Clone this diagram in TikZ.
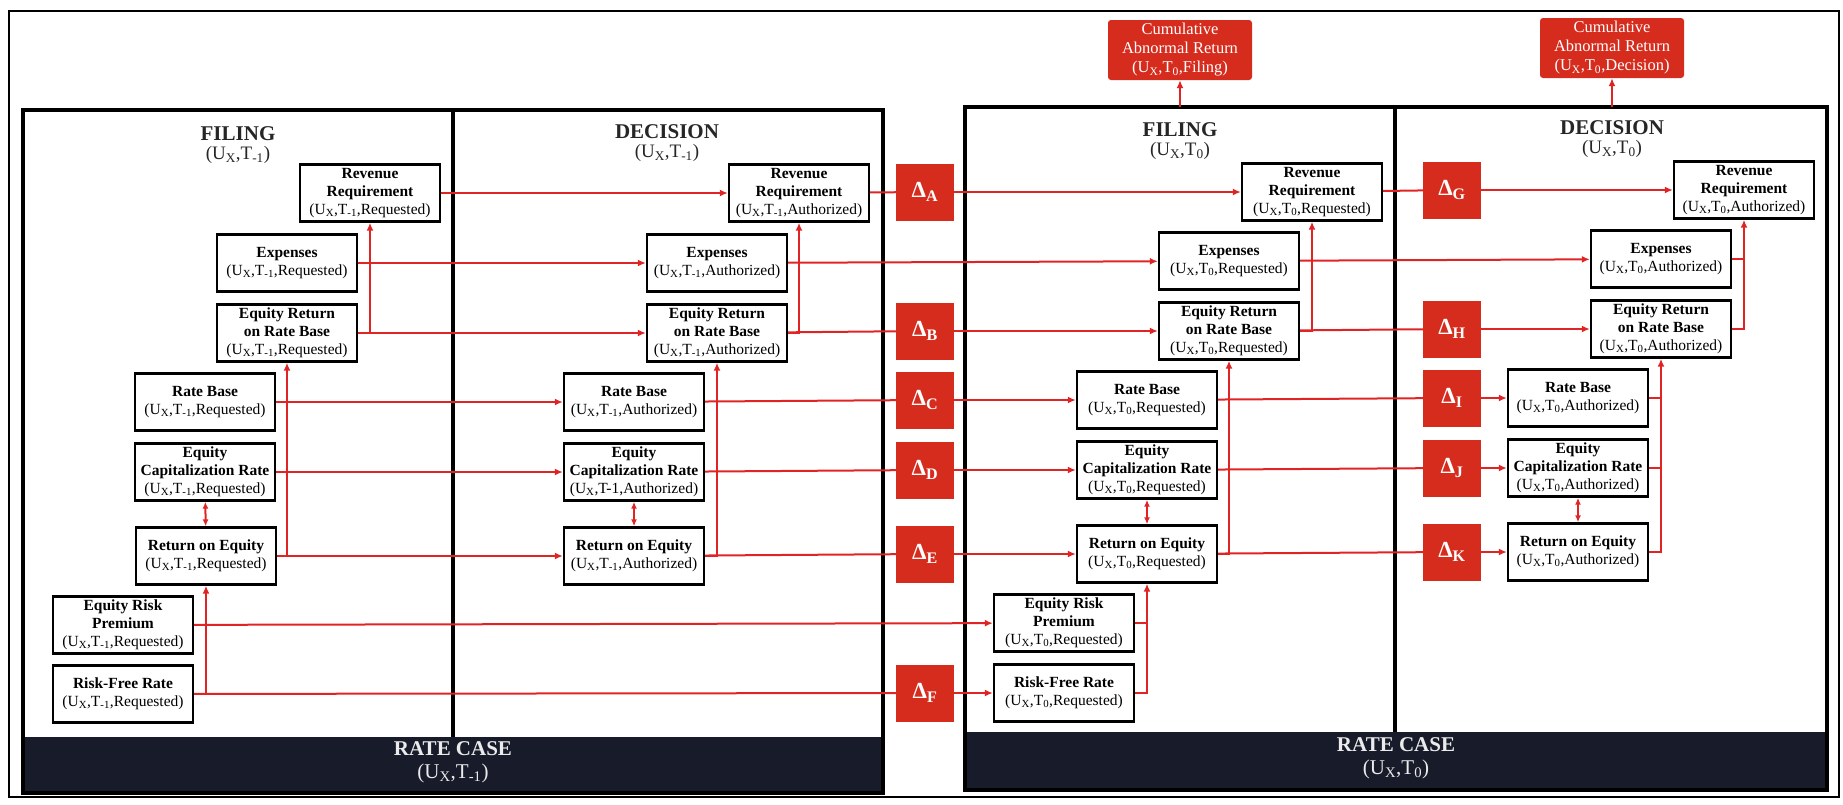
\documentclass[tikz,border=0pt]{standalone}
\usepackage{fontspec}
\setmainfont{Liberation Serif}
\usepackage{xcolor}
\usetikzlibrary{positioning, arrows.meta}

\definecolor{linered}{RGB}{224,36,36}
\definecolor{deltared}{RGB}{214,44,30}
\definecolor{bandnavy}{RGB}{24,27,42}

\newcommand{\ux}[2]{(U\textsubscript{X},T\textsubscript{#1},#2)}

\begin{document}
\begin{tikzpicture}[x=1pt, y=-1pt,
    every node/.style={font=\fontsize{15.5}{18}\selectfont},
    box/.style={draw, line width=2.4pt, fill=white, minimum width=140pt, minimum height=57pt, inner sep=1pt, align=center},
    delta/.style={fill=deltared, minimum width=58pt, minimum height=57pt, text=white, font=\fontsize{23}{26}\selectfont\bfseries},
    cumbox/.style={fill=deltared, rounded corners=3pt, minimum width=144pt, minimum height=60pt, inner sep=1pt, text=white, align=center, font=\fontsize{16.5}{19}\selectfont},
    title/.style={font=\fontsize{21}{23}\selectfont\bfseries, text=black!85, inner sep=0pt},
    subtitle/.style={font=\fontsize{19}{22}\selectfont, text=black!85, inner sep=0pt},
    bandtext/.style={align=center, text=white!92!black, font=\fontsize{21}{23}\selectfont},
    panel/.style={line width=3.5pt},
    link/.style={draw=linered, line width=2pt},
    feed/.style={link, -{Latex[length=8pt,width=7pt]}},
    both/.style={link, {Latex[length=7pt,width=6pt]}-{Latex[length=7pt,width=6pt]}}]

    \useasboundingbox (0,0) rectangle (1843,804);
    \draw[line width=1.2pt] (9,11) rectangle (1839,797);

    % rate case T-1
    \fill[bandnavy] (23,737) rectangle (883,793);
    \draw[panel] (23,110) rectangle (883,793);
    \draw[panel] (453,110) -- (453,737);
    \node[bandtext] (baLabel) at (453,762) {\textbf{RATE CASE}\\(U\textsubscript{X},T\textsubscript{-1})};

    % rate case T0
    \fill[bandnavy] (965,732) rectangle (1827,790);
    \draw[panel] (965,107) rectangle (1827,790);
    \draw[panel] (1395,107) -- (1395,732);
    \node[bandtext] (bbLabel) at (1396,758) {\textbf{RATE CASE}\\(U\textsubscript{X},T\textsubscript{0})};
    \coordinate (fbTop) at (1180,107);
    \coordinate (dbTop) at (1612,107);

    % titles
    \node[title] (faTitle) at (238,134) {FILING};
    \node[subtitle, below=5pt of faTitle] (faSub) {(U\textsubscript{X},T\textsubscript{-1})};
    \node[title] (daTitle) at (667,132) {DECISION};
    \node[subtitle, below=5pt of daTitle] (daSub) {(U\textsubscript{X},T\textsubscript{-1})};
    \node[title] (fbTitle) at (1180,130) {FILING};
    \node[subtitle, below=5pt of fbTitle] (fbSub) {(U\textsubscript{X},T\textsubscript{0})};
    \node[title] (dbTitle) at (1612,128) {DECISION};
    \node[subtitle, below=5pt of dbTitle] (dbSub) {(U\textsubscript{X},T\textsubscript{0})};

    % cumulative abnormal returns
    \node[cumbox] (carFiling) at (1180,50) {Cumulative\\Abnormal Return\\\ux{0}{Filing}};
    \node[cumbox] (carDecision) at (1612,48) {Cumulative\\Abnormal Return\\\ux{0}{Decision}};

    % filing T-1
    \node[box] (faRev) at (370,193) {\textbf{Revenue}\\\textbf{Requirement}\\\ux{-1}{Requested}};
    \node[box] (faExp) at (287,263) {\textbf{Expenses}\\\ux{-1}{Requested}};
    \node[box] (faErb) at (287,333) {\textbf{Equity Return}\\\textbf{on Rate Base}\\\ux{-1}{Requested}};
    \node[box] (faRb) at (205,402) {\textbf{Rate Base}\\\ux{-1}{Requested}};
    \node[box] (faEcr) at (205,472) {\textbf{Equity}\\\textbf{Capitalization Rate}\\\ux{-1}{Requested}};
    \node[box] (faRoe) at (206,556) {\textbf{Return on Equity}\\\ux{-1}{Requested}};
    \node[box] (faErp) at (123,625) {\textbf{Equity Risk}\\\textbf{Premium}\\\ux{-1}{Requested}};
    \node[box] (faRf) at (123,694) {\textbf{Risk-Free Rate}\\\ux{-1}{Requested}};

    % decision T-1
    \node[box] (daRev) at (799,193) {\textbf{Revenue}\\\textbf{Requirement}\\\ux{-1}{Authorized}};
    \node[box] (daExp) at (717,263) {\textbf{Expenses}\\\ux{-1}{Authorized}};
    \node[box] (daErb) at (717,333) {\textbf{Equity Return}\\\textbf{on Rate Base}\\\ux{-1}{Authorized}};
    \node[box] (daRb) at (634,402) {\textbf{Rate Base}\\\ux{-1}{Authorized}};
    \node[box] (daEcr) at (634,472) {\textbf{Equity}\\\textbf{Capitalization Rate}\\(U\textsubscript{X},T-1,Authorized)};
    \node[box] (daRoe) at (634,556) {\textbf{Return on Equity}\\\ux{-1}{Authorized}};

    % deltas between the cases
    \node[delta] (dA) at (925,192) {Δ\textsubscript{A}};
    \node[delta] (dB) at (925,331) {Δ\textsubscript{B}};
    \node[delta] (dC) at (925,400) {Δ\textsubscript{C}};
    \node[delta] (dD) at (925,470) {Δ\textsubscript{D}};
    \node[delta] (dE) at (925,554) {Δ\textsubscript{E}};
    \node[delta] (dF) at (925,693) {Δ\textsubscript{F}};

    % filing T0
    \node[box] (fbRev) at (1312,192) {\textbf{Revenue}\\\textbf{Requirement}\\\ux{0}{Requested}};
    \node[box] (fbExp) at (1229,261) {\textbf{Expenses}\\\ux{0}{Requested}};
    \node[box] (fbErb) at (1229,331) {\textbf{Equity Return}\\\textbf{on Rate Base}\\\ux{0}{Requested}};
    \node[box] (fbRb) at (1147,400) {\textbf{Rate Base}\\\ux{0}{Requested}};
    \node[box] (fbEcr) at (1147,470) {\textbf{Equity}\\\textbf{Capitalization Rate}\\\ux{0}{Requested}};
    \node[box] (fbRoe) at (1147,554) {\textbf{Return on Equity}\\\ux{0}{Requested}};
    \node[box] (fbErp) at (1064,623) {\textbf{Equity Risk}\\\textbf{Premium}\\\ux{0}{Requested}};
    \node[box] (fbRf) at (1064,693) {\textbf{Risk-Free Rate}\\\ux{0}{Requested}};

    % deltas inside decision T0
    \node[delta] (dG) at (1452,190) {Δ\textsubscript{G}};
    \node[delta] (dH) at (1452,329) {Δ\textsubscript{H}};
    \node[delta] (dI) at (1452,398) {Δ\textsubscript{I}};
    \node[delta] (dJ) at (1452,468) {Δ\textsubscript{J}};
    \node[delta] (dK) at (1452,552) {Δ\textsubscript{K}};

    % decision T0
    \node[box] (dbRev) at (1744,190) {\textbf{Revenue}\\\textbf{Requirement}\\\ux{0}{Authorized}};
    \node[box] (dbExp) at (1661,259) {\textbf{Expenses}\\\ux{0}{Authorized}};
    \node[box] (dbErb) at (1661,329) {\textbf{Equity Return}\\\textbf{on Rate Base}\\\ux{0}{Authorized}};
    \node[box] (dbRb) at (1578,398) {\textbf{Rate Base}\\\ux{0}{Authorized}};
    \node[box] (dbEcr) at (1578,468) {\textbf{Equity}\\\textbf{Capitalization Rate}\\\ux{0}{Authorized}};
    \node[box] (dbRoe) at (1578,552) {\textbf{Return on Equity}\\\ux{0}{Authorized}};

    % build-up within each panel
    \draw[feed] (faErb.east) -| (faRev.south);
    \draw[feed] (faRoe.east) -| (faErb.south);
    \draw[feed] (faRf.east) -| (faRoe.south);
    \draw[both] (faEcr) -- (faRoe);
    \draw[feed] (daErb.east) -| (daRev.south);
    \draw[feed] (daRoe.east) -| (daErb.south);
    \draw[both] (daEcr) -- (daRoe);
    \draw[feed] (fbErb.east) -| (fbRev.south);
    \draw[feed] (fbRoe.east) -| (fbErb.south);
    \draw[feed] (fbRf.east) -| (fbRoe.south);
    \draw[link] (fbErp.east) -- (fbErp.east -| fbRoe.south);
    \draw[both] (fbEcr) -- (fbRoe);
    \draw[feed] (dbErb.east) -| (dbRev.south);
    \draw[link] (dbExp.east) -- (dbExp.east -| dbRev.south);
    \draw[feed] (dbRoe.east) -| (dbErb.south);
    \draw[link] (dbRb.east) -- (dbRb.east -| dbErb.south);
    \draw[link] (dbEcr.east) -- (dbEcr.east -| dbErb.south);
    \draw[both] (dbEcr) -- (dbRoe);

    % filing T-1 to decision T-1
    \draw[feed] (faRev) -- (daRev);
    \draw[feed] (faExp) -- (daExp);
    \draw[feed] (faErb) -- (daErb);
    \draw[feed] (faRb) -- (daRb);
    \draw[feed] (faEcr) -- (daEcr);
    \draw[feed] (faRoe) -- (daRoe);

    % T-1 to T0
    \draw[link] (daRev) -- (dA);
    \draw[link] (daErb) -- (dB);
    \draw[link] (daRb) -- (dC);
    \draw[link] (daEcr) -- (dD);
    \draw[link] (daRoe) -- (dE);
    \draw[link] (faRf) -- (dF);
    \draw[feed] (dA) -- (fbRev);
    \draw[feed] (daExp) -- (fbExp);
    \draw[feed] (dB) -- (fbErb);
    \draw[feed] (dC) -- (fbRb);
    \draw[feed] (dD) -- (fbEcr);
    \draw[feed] (dE) -- (fbRoe);
    \draw[feed] (faErp) -- (fbErp);
    \draw[feed] (dF) -- (fbRf);

    % filing T0 to decision T0
    \draw[link] (fbRev) -- (dG);
    \draw[link] (fbErb) -- (dH);
    \draw[link] (fbRb) -- (dI);
    \draw[link] (fbEcr) -- (dJ);
    \draw[link] (fbRoe) -- (dK);
    \draw[feed] (dG) -- (dbRev);
    \draw[feed] (fbExp) -- (dbExp);
    \draw[feed] (dH) -- (dbErb);
    \draw[feed] (dI) -- (dbRb);
    \draw[feed] (dJ) -- (dbEcr);
    \draw[feed] (dK) -- (dbRoe);

    % market reaction
    \draw[feed, line width=2.5pt] (fbTop) -- (carFiling.south);
    \draw[feed, line width=2.5pt] (dbTop) -- (carDecision.south);
\end{tikzpicture}
\end{document}
